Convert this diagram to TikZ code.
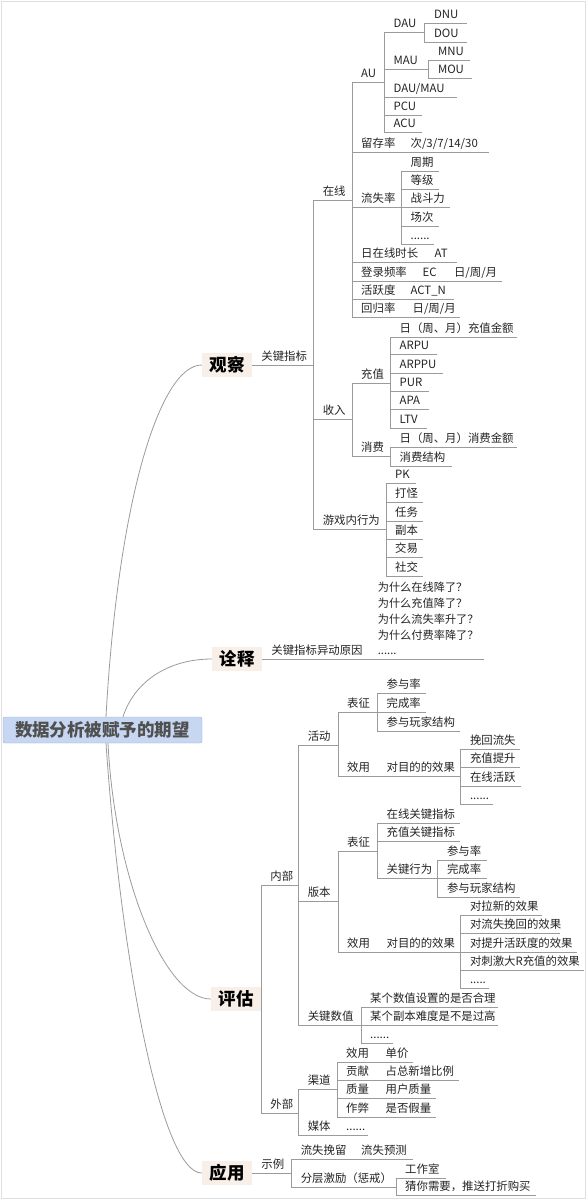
\documentclass[tikz,border=0pt]{standalone}
\usepackage{fontspec}
\setmainfont{Noto Sans CJK SC}
\newfontfamily\heavy{Noto Sans CJK SC Black}
\usepackage{tikz}
\usetikzlibrary{positioning}
\definecolor{LineGray}{RGB}{155,155,155}
\definecolor{InkGray}{RGB}{35,35,35}
\definecolor{TopicFill}{RGB}{247,239,232}
\definecolor{RootBlue}{RGB}{199,215,242}
\definecolor{RootEdge}{RGB}{150,175,220}
\definecolor{RootInk}{RGB}{80,80,80}
\tikzset{
  root/.style  = {draw=RootEdge, fill=RootBlue, rounded corners=2pt,
                  minimum width=199pt, minimum height=26pt, inner sep=0pt,
                  text=RootInk, font=\fontsize{17.5}{20}\selectfont\heavy},
  topic/.style = {fill=TopicFill, minimum width=50pt, minimum height=24pt,
                  inner sep=0pt, text=black, font=\fontsize{17.5}{20}\selectfont\heavy},
  item/.style  = {anchor=south west, inner sep=0pt, text width=#1pt,
                  text height=10pt, text depth=4pt, text=InkGray,
                  font=\fontsize{11.4}{14}\selectfont,
                  execute at begin node={\leftskip=9pt}},
  itemm/.style = {anchor=south west, inner sep=0pt, text width=#1pt, text=InkGray,
                  font=\fontsize{11.2}{15.75}\selectfont,
                  execute at begin node={\leftskip=8pt}},
  ln/.style    = {draw=LineGray, line width=0.8pt},
  crv/.style   = {draw=LineGray, line width=0.8pt}
}

\begin{document}
\begin{tikzpicture}[x=1pt, y=-1pt]
\useasboundingbox (0,0) rectangle (588,1200);
\draw[gray!25] (1,1) rectangle (585,1198);

% centre and main topics
\node[root]  (root) at (102.5,730) {数据分析被赋予的期望};
\node[topic] (gc) at (227,365)  {观察};
\node[topic] (js) at (237,659)  {诠释};
\node[topic] (pg) at (236,999)  {评估};
\node[topic] (yy) at (227,1173) {应用};

\draw[crv] ([xshift=3.5pt]root.north) .. controls (118,500) and (160,365) .. (gc.west);
\draw[crv] ([xshift=20.5pt]root.north) .. controls (135,680) and (170,659) .. (js.west);
\draw[crv] ([xshift=5.5pt]root.south) .. controls (115,880) and (165,999) .. (pg.west);
\draw[crv] ([xshift=3.5pt]root.south) .. controls (120,950) and (160,1173) .. (yy.west);

% 观察
\node[item=61] (gjzb) at (gc.east |- 0,365) {关键指标};
\draw[ln] (gc.east) -- (gjzb.south east);

\node[item=38] (zx)   at (gjzb.south east |- 0,200) {在线};
\node[item=38] (sr)   at (gjzb.south east |- 0,419) {收入};
\node[item=72] (yxnx) at (gjzb.south east |- 0,529) {游戏内行为};
\foreach \c in {zx,sr,yxnx} \draw[ln] (gjzb.south east) |- (\c.south east);

\node[item=32] (au)   at (zx.south east |- 0,82)  {AU};
\node[item=49] (lcl)  at (zx.south east |- 0,152) {留存率};
\node[item=49] (lsl)  at (zx.south east |- 0,207) {流失率};
\node[item=73] (rzx)  at (zx.south east |- 0,262) {日在线时长};
\node[item=61] (dlpl) at (zx.south east |- 0,281) {登录频率};
\node[item=49] (hyd)  at (zx.south east |- 0,299) {活跃度};
\node[item=51] (hgl)  at (zx.south east |- 0,317) {回归率};
\foreach \c in {au,lcl,lsl,rzx,dlpl,hyd,hgl} \draw[ln] (zx.south east) |- (\c.south east);

\node[item=87] (lcd)  at (lcl.south east |- 0,152)  {次/3/7/14/30};
\node[item=31] (atv)  at (rzx.south east |- 0,262)  {AT};
\node[item=31] (ec)   at (dlpl.south east |- 0,281) {EC};
\node[item=57] (ecz)  at (ec.south east |- 0,281)   {日/周/月};
\node[item=52] (actn) at (hyd.south east |- 0,299)  {ACT\_N};
\node[item=56] (hgz)  at (hgl.south east |- 0,317)  {日/周/月};
\draw[ln] (lcl.south east) -- (lcd.south east);
\draw[ln] (rzx.south east) -- (atv.south east);
\draw[ln] (dlpl.south east) -- (ec.south east);
\draw[ln] (ec.south east) -- (ecz.south east);
\draw[ln] (hyd.south east) -- (actn.south east);
\draw[ln] (hgl.south east) -- (hgz.south east);

\node[item=40] (dau) at (au.south east |- 0,32)  {DAU};
\node[item=44] (mau) at (au.south east |- 0,69)  {MAU};
\node[item=72] (dm)  at (au.south east |- 0,97)  {DAU/MAU};
\node[item=37] (pcu) at (au.south east |- 0,115) {PCU};
\node[item=37] (acu) at (au.south east |- 0,132) {ACU};
\foreach \c in {dau,mau,dm,pcu,acu} \draw[ln] (au.south east) |- (\c.south east);

\node[item=42] (dnu) at (dau.south east |- 0,23) {DNU};
\node[item=42] (dou) at (dau.south east |- 0,42) {DOU};
\node[item=41] (mnu) at (mau.south east |- 0,60) {MNU};
\node[item=43] (mou) at (mau.south east |- 0,78) {MOU};
\foreach \c in {dnu,dou} \draw[ln] (dau.south east) |- (\c.south east);
\foreach \c in {mnu,mou} \draw[ln] (mau.south east) |- (\c.south east);

\node[item=37] (zq)  at (lsl.south east |- 0,171) {周期};
\node[item=37] (dj)  at (lsl.south east |- 0,189) {等级};
\node[item=48] (zdl) at (lsl.south east |- 0,207) {战斗力};
\node[item=37] (cc)  at (lsl.south east |- 0,226) {场次};
\node[item=32] (ls1) at (lsl.south east |- 0,244) {......};
\foreach \c in {zq,dj,zdl,cc,ls1} \draw[ln] (lsl.south east) |- (\c.south east);

\node[item=38] (cz) at (sr.south east |- 0,383) {充值};
\node[item=38] (xf) at (sr.south east |- 0,456) {消费};
\foreach \c in {cz,xf} \draw[ln] (sr.south east) |- (\c.south east);

\node[item=126] (czje) at (cz.south east |- 0,337) {日（周、月）充值金额};
\node[item=46] (arpu)  at (cz.south east |- 0,354) {ARPU};
\node[item=52] (arppu) at (cz.south east |- 0,373) {ARPPU};
\node[item=38] (pur)   at (cz.south east |- 0,391) {PUR};
\node[item=38] (apa)   at (cz.south east |- 0,409) {APA};
\node[item=36] (ltv)   at (cz.south east |- 0,428) {LTV};
\foreach \c in {czje,arpu,arppu,pur,apa,ltv} \draw[ln] (cz.south east) |- (\c.south east);

\node[item=126] (xfje) at (xf.south east |- 0,447) {日（周、月）消费金额};
\node[item=61] (xfjg)  at (xf.south east |- 0,466) {消费结构};
\foreach \c in {xfje,xfjg} \draw[ln] (xf.south east) |- (\c.south east);

\node[item=30] (pk) at (yxnx.south east |- 0,483) {PK};
\node[item=37] (dg) at (yxnx.south east |- 0,502) {打怪};
\node[item=37] (rw) at (yxnx.south east |- 0,521) {任务};
\node[item=37] (fb) at (yxnx.south east |- 0,539) {副本};
\node[item=37] (jy) at (yxnx.south east |- 0,557) {交易};
\node[item=37] (sj) at (yxnx.south east |- 0,576) {社交};
\foreach \c in {pk,dg,rw,fb,jy,sj} \draw[ln] (yxnx.south east) |- (\c.south east);

% 诠释
\node[item=107] (ydyy) at (js.east |- 0,659) {关键指标异动原因};
\draw[ln] (js.east) -- (ydyy.south east);
\node[itemm=114] (wsm) at (ydyy.south east |- 0,659)
  {为什么在线降了？\\为什么充值降了？\\为什么流失率升了？\\为什么付费率降了？\\......\rule[-4pt]{0pt}{4pt}};
\draw[ln] (ydyy.south east) -- (wsm.south east);

% 评估
\node[item=37] (nb) at (pg.east |- 0,885)  {内部};
\node[item=37] (wb) at (pg.east |- 0,1113) {外部};
\foreach \c in {nb,wb} \draw[ln] (pg.east) |- (\c.south east);

\node[item=39] (hd)   at (nb.south east |- 0,745)  {活动};
\node[item=39] (bb)   at (nb.south east |- 0,901)  {版本};
\node[item=62] (gjsz) at (nb.south east |- 0,1025) {关键数值};
\foreach \c in {hd,bb,gjsz} \draw[ln] (nb.south east) |- (\c.south east);

\node[item=39] (bz1) at (hd.south east |- 0,712) {表征};
\node[item=39] (xy1) at (hd.south east |- 0,776) {效用};
\foreach \c in {bz1,xy1} \draw[ln] (hd.south east) |- (\c.south east);

\node[item=48] (cyl1)  at (bz1.south east |- 0,693) {参与率};
\node[item=48] (wcl1)  at (bz1.south east |- 0,712) {完成率};
\node[item=82] (cywj1) at (bz1.south east |- 0,731) {参与玩家结构};
\foreach \c in {cyl1,wcl1,cywj1} \draw[ln] (bz1.south east) |- (\c.south east);

\node[item=83] (dmd1) at (xy1.south east |- 0,776) {对目的的效果};
\draw[ln] (xy1.south east) -- (dmd1.south east);

\node[item=59] (whls) at (dmd1.south east |- 0,749) {挽回流失};
\node[item=59] (czts) at (dmd1.south east |- 0,767) {充值提升};
\node[item=60] (zxhy) at (dmd1.south east |- 0,786) {在线活跃};
\node[item=32] (ls2)  at (dmd1.south east |- 0,804) {......};
\foreach \c in {whls,czts,zxhy,ls2} \draw[ln] (dmd1.south east) |- (\c.south east);

\node[item=39] (bz2) at (bb.south east |- 0,851) {表征};
\node[item=39] (xy2) at (bb.south east |- 0,952) {效用};
\foreach \c in {bz2,xy2} \draw[ln] (bb.south east) |- (\c.south east);

\node[item=82] (zxgj) at (bz2.south east |- 0,823) {在线关键指标};
\node[item=82] (czgj) at (bz2.south east |- 0,841) {充值关键指标};
\node[item=60] (gjxw) at (bz2.south east |- 0,878) {关键行为};
\foreach \c in {zxgj,czgj,gjxw} \draw[ln] (bz2.south east) |- (\c.south east);

\node[item=49] (cyl2)  at (gjxw.south east |- 0,860) {参与率};
\node[item=49] (wcl2)  at (gjxw.south east |- 0,878) {完成率};
\node[item=82] (cywj2) at (gjxw.south east |- 0,897) {参与玩家结构};
\foreach \c in {cyl2,wcl2,cywj2} \draw[ln] (gjxw.south east) |- (\c.south east);

\node[item=83] (dmd2) at (xy2.south east |- 0,952) {对目的的效果};
\draw[ln] (xy2.south east) -- (dmd2.south east);

\node[item=81]  (dlx) at (dmd2.south east |- 0,915) {对拉新的效果};
\node[item=99]  (dls) at (dmd2.south east |- 0,933) {对流失挽回的效果};
\node[item=116] (dts) at (dmd2.south east |- 0,952) {对提升活跃度的效果};
\node[item=123] (dcj) at (dmd2.south east |- 0,970) {对刺激大R充值的效果};
\node[item=28]  (ls3) at (dmd2.south east |- 0,988) {.....};
\foreach \c in {dlx,dls,dts,dcj,ls3} \draw[ln] (dmd2.south east) |- (\c.south east);

\node[item=137] (szhl) at (gjsz.south east |- 0,1007) {某个数值设置的是否合理};
\node[item=137] (fbnd) at (gjsz.south east |- 0,1025) {某个副本难度是不是过高};
\node[item=32]  (ls4)  at (gjsz.south east |- 0,1043) {......};
\foreach \c in {szhl,fbnd,ls4} \draw[ln] (gjsz.south east) |- (\c.south east);

\node[item=38] (qd) at (wb.south east |- 0,1089) {渠道};
\node[item=38] (mt) at (wb.south east |- 0,1135) {媒体};
\foreach \c in {qd,mt} \draw[ln] (wb.south east) |- (\c.south east);
\node[item=31] (ls5) at (mt.south east |- 0,1135) {......};
\draw[ln] (mt.south east) -- (ls5.south east);

\node[item=39] (xy3) at (qd.south east |- 0,1062) {效用};
\node[item=39] (gx)  at (qd.south east |- 0,1080) {贡献};
\node[item=39] (zl)  at (qd.south east |- 0,1098) {质量};
\node[item=39] (zb)  at (qd.south east |- 0,1117) {作弊};
\foreach \c in {xy3,gx,zl,zb} \draw[ln] (qd.south east) |- (\c.south east);

\node[item=36] (djv)  at (xy3.south east |- 0,1062) {单价};
\node[item=82] (zzb)  at (gx.south east |- 0,1080)  {占总新增比例};
\node[item=59] (yhzl) at (zl.south east |- 0,1098)  {用户质量};
\node[item=59] (sfjl) at (zb.south east |- 0,1117)  {是否假量};
\draw[ln] (xy3.south east) -- (djv.south east);
\draw[ln] (gx.south east) -- (zzb.south east);
\draw[ln] (zl.south east) -- (yhzl.south east);
\draw[ln] (zb.south east) -- (sfjl.south east);

% 应用
\node[item=39] (sl) at (yy.east |- 0,1173) {示例};
\draw[ln] (yy.east) -- (sl.south east);

\node[item=60]  (lswl) at (sl.south east |- 0,1159) {流失挽留};
\node[item=104] (fcjl) at (sl.south east |- 0,1187) {分层激励（惩戒）};
\foreach \c in {lswl,fcjl} \draw[ln] (sl.south east) |- (\c.south east);
\node[item=61] (lsyc) at (lswl.south east |- 0,1159) {流失预测};
\draw[ln] (lswl.south east) -- (lsyc.south east);

\node[item=50]  (gzs)  at (fcjl.south east |- 0,1178) {工作室};
\node[item=140] (cnxy) at (fcjl.south east |- 0,1195) {猜你需要，推送打折购买};
\foreach \c in {gzs,cnxy} \draw[ln] (fcjl.south east) |- (\c.south east);
\end{tikzpicture}
\end{document}
